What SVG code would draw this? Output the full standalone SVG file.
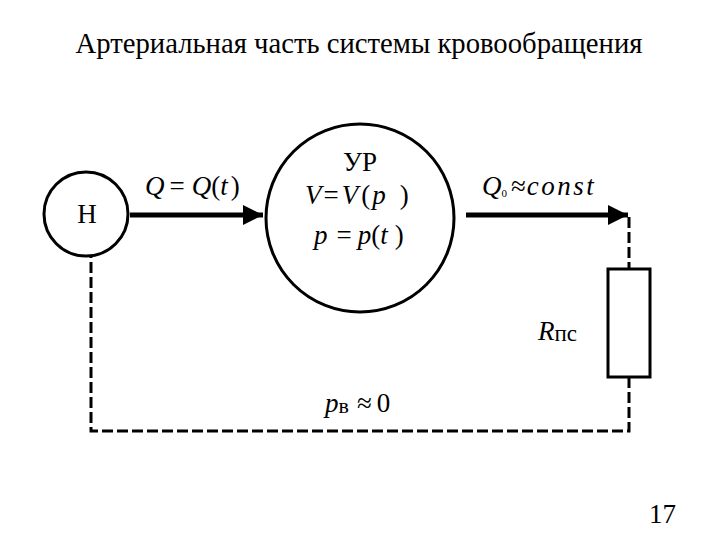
<svg xmlns="http://www.w3.org/2000/svg" width="720" height="540" viewBox="0 0 720 540">
<defs>
<marker id="ah" markerWidth="4" markerHeight="4" refX="4" refY="2" orient="auto" markerUnits="strokeWidth">
<path d="M0,0 L4,2 L0,4 Z" fill="#000"/>
</marker>
</defs>
<rect width="720" height="540" fill="#fff"/>
<text font-family="Liberation Serif" font-size="28.7" x="359" y="53" text-anchor="middle">Артериальная часть системы кровообращения</text>
<g id="connectors" fill="none" stroke="#000">
<line stroke-width="5" x1="130" y1="215" x2="263" y2="215" marker-end="url(#ah)"/>
<line stroke-width="5" x1="466" y1="215" x2="628" y2="215" marker-end="url(#ah)"/>
<polyline stroke-width="3" stroke-dasharray="11 4" points="629,217 629,269"/>
<polyline stroke-width="3" stroke-dasharray="11 4" points="629,377 629,431 91,431 91,257"/>
</g>
<g id="H">
<circle fill="#fff" stroke="#000" stroke-width="3" cx="86" cy="214" r="42"/>
<text font-family="Liberation Serif" font-size="27" x="87" y="223" text-anchor="middle">Н</text>
</g>
<g id="UR">
<circle fill="#fff" stroke="#000" stroke-width="3" cx="360" cy="218" r="94"/>
<text font-family="Liberation Serif" font-size="27" x="360" y="171" text-anchor="middle">УР</text>
<text font-family="Liberation Serif" font-size="27" x="305" y="204"><tspan font-style="italic">V</tspan><tspan dx="2">=</tspan><tspan font-style="italic" dx="3">V</tspan><tspan dx="3">(</tspan><tspan font-style="italic" dx="2">p</tspan><tspan dx="14">)</tspan></text>
<text font-family="Liberation Serif" font-size="27" x="314" y="244"><tspan font-style="italic">p</tspan><tspan dx="9">=</tspan><tspan font-style="italic" dx="6">p</tspan><tspan>(</tspan><tspan font-style="italic">t</tspan><tspan dx="7">)</tspan></text>
</g>
<g id="R">
<rect fill="#fff" stroke="#000" stroke-width="3" x="608" y="269" width="42" height="108"/>
<text font-family="Liberation Serif" font-size="27" x="538" y="340"><tspan font-style="italic">R</tspan><tspan dy="1" font-size="23">пс</tspan></text>
</g>
<g id="labels">
<text font-family="Liberation Serif" font-size="27" x="145" y="195"><tspan font-style="italic">Q</tspan><tspan dx="5">=</tspan><tspan font-style="italic" dx="7">Q</tspan><tspan>(</tspan><tspan font-style="italic">t</tspan><tspan dx="3">)</tspan></text>
<text font-family="Liberation Serif" font-size="27" x="482" y="195"><tspan font-style="italic">Q</tspan><tspan font-size="11" dy="2">0</tspan><tspan dx="4" dy="-2">≈</tspan><tspan font-style="italic" dx="1" letter-spacing="2.5">const</tspan></text>
<text font-family="Liberation Serif" font-size="27" x="325" y="412"><tspan font-style="italic">p</tspan><tspan font-size="22" dy="1">в</tspan><tspan dx="8" dy="-1">≈</tspan><tspan dx="5">0</tspan></text>
<text font-family="Liberation Serif" font-size="27" x="649" y="523">17</text>
</g>
</svg>
